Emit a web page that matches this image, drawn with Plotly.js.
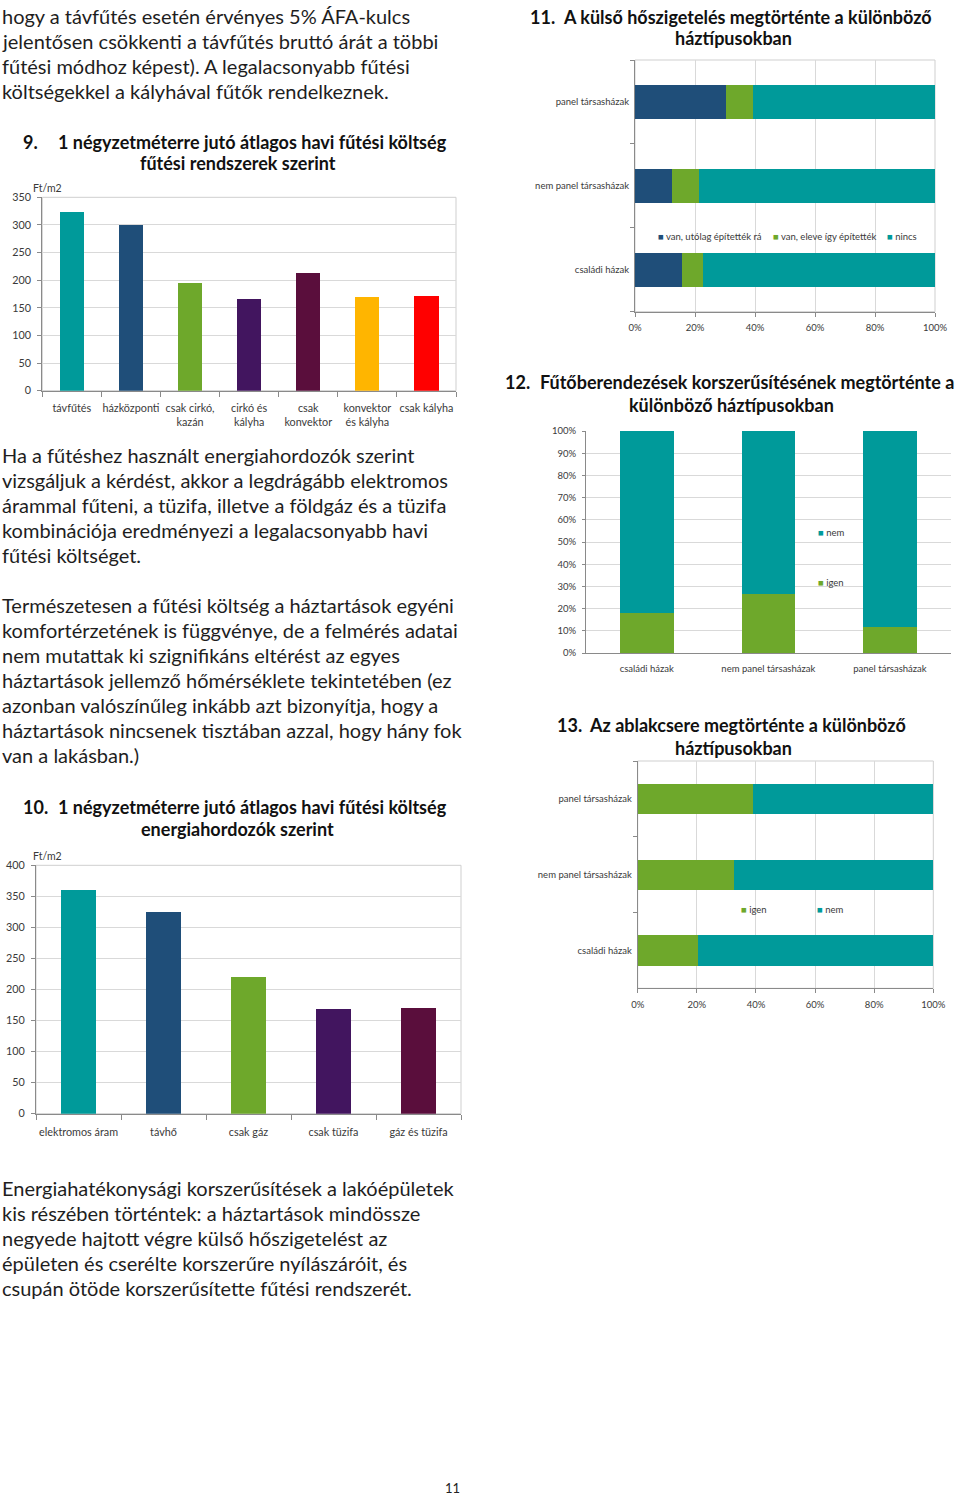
<!DOCTYPE html>
<html>
<head>
<meta charset="utf-8">
<script src="https://cdn.plot.ly/plotly-3.0.1.min.js"></script>
<style>
html,body{margin:0;padding:0;background:#fff;}
#chart{width:960px;height:1495px;}
</style>
</head>
<body>
<div id="chart"></div>
<script>
// ---------- DATA ----------
// Chart 9
const c9Cats = ['távfűtés', 'házközponti', 'csak cirkó,<br>kazán', 'cirkó és<br>kályha', 'csak<br>konvektor', 'konvektor<br>és kályha', 'csak kályha'];
const c9Vals = [324, 300, 195, 166, 213, 170, 172];
// Chart 10
const c10Cats = ['elektromos áram', 'távhő', 'csak gáz', 'csak tüzifa', 'gáz és tüzifa'];
const c10Vals = [360, 325, 220, 168, 170];
// Chart 11
const c11Cats = ['családi házak', 'nem panel társasházak', 'panel társasházak'];
const c11Utolag = [15.6, 12.3, 30.4];
const c11Eleve = [7.0, 9.0, 8.8];
const c11Nincs = [77.4, 78.7, 60.8];
const c11Names = ['van, utólag építették rá', 'van, eleve így építették', 'nincs'];
// Chart 12
const c12Cats = ['családi házak', 'nem panel társasházak', 'panel társasházak'];
const c12Igen = [17.9, 26.7, 11.6];
const c12Nem = [82.1, 73.3, 88.4];
// Chart 13
const c13Cats = ['családi házak', 'nem panel társasházak', 'panel társasházak'];
const c13Igen = [20.4, 32.6, 39.0];
const c13Nem = [79.6, 67.4, 61.0];
const unitLabel = 'Ft/m2';

// Text
const title9 = ['9.', '1 négyzetméterre jutó átlagos havi fűtési költség', 'fűtési rendszerek szerint'];
const title10 = ['10.', '1 négyzetméterre jutó átlagos havi fűtési költség', 'energiahordozók szerint'];
const title11 = ['11.', 'A külső hőszigetelés megtörténte a különböző', 'háztípusokban'];
const title12 = ['12.', 'Fűtőberendezések korszerűsítésének megtörténte a', 'különböző háztípusokban'];
const title13 = ['13.', 'Az ablakcsere megtörténte a különböző', 'háztípusokban'];
const textTop = ['hogy a távfűtés esetén érvényes 5% ÁFA-kulcs', 'jelentősen csökkenti a távfűtés bruttó árát a többi', 'fűtési módhoz képest). A legalacsonyabb fűtési', 'költségekkel a kályhával fűtők rendelkeznek.'];
const textMid1 = ['Ha a fűtéshez használt energiahordozók szerint', 'vizsgáljuk a kérdést, akkor a legdrágább elektromos', 'árammal fűteni, a tüzifa, illetve a földgáz és a tüzifa', 'kombinációja eredményezi a legalacsonyabb havi', 'fűtési költséget.'];
const textMid2 = ['Természetesen a fűtési költség a háztartások egyéni', 'komfortérzetének is függvénye, de a felmérés adatai', 'nem mutattak ki szignifikáns eltérést az egyes', 'háztartások jellemző hőmérséklete tekintetében (ez', 'azonban valószínűleg inkább azt bizonyítja, hogy a', 'háztartások nincsenek tisztában azzal, hogy hány fok', 'van a lakásban.)'];
const textBottom = ['Energiahatékonysági korszerűsítések a lakóépületek', 'kis részében történtek: a háztartások mindössze', 'negyede hajtott végre külső hőszigetelést az', 'épületen és cserélte korszerűre nyílászáróit, és', 'csupán ötöde korszerűsítette fűtési rendszerét.'];
const pageNo = '11';

// ---------- STYLE ----------
const W = 960, H = 1495;
const X = px => px / W;
const Y = py => 1 - py / H;
const TEAL = '#009a9a', NAVY = '#1f4e79', GREEN = '#6ea82b', PURPLE = '#42155f', MAROON = '#5a0e3c', YELLOW = '#ffb500', RED = '#ff0000';
const c9Colors = [TEAL, NAVY, GREEN, PURPLE, MAROON, YELLOW, RED];
const c10Colors = [TEAL, NAVY, GREEN, PURPLE, MAROON];
const FONT = 'Lato, "Open Sans", sans-serif';
const AXC = '#8a8a8a', GRID = '#d9d9d9', LBL = '#3a3a3a';

const traces = [
  {type: 'bar', x: c9Cats, y: c9Vals, marker: {color: c9Colors}, width: 0.41, xaxis: 'x', yaxis: 'y'},
  {type: 'bar', x: c10Cats, y: c10Vals, marker: {color: c10Colors}, width: 0.42, xaxis: 'x2', yaxis: 'y2'},
  {type: 'bar', orientation: 'h', y: c11Cats, x: c11Utolag, name: c11Names[0], marker: {color: NAVY}, width: 0.4, xaxis: 'x3', yaxis: 'y3'},
  {type: 'bar', orientation: 'h', y: c11Cats, x: c11Eleve, name: c11Names[1], marker: {color: GREEN}, width: 0.4, xaxis: 'x3', yaxis: 'y3'},
  {type: 'bar', orientation: 'h', y: c11Cats, x: c11Nincs, name: c11Names[2], marker: {color: TEAL}, width: 0.4, xaxis: 'x3', yaxis: 'y3'},
  {type: 'bar', x: c12Cats, y: c12Igen, name: 'igen', marker: {color: GREEN}, width: 0.44, xaxis: 'x4', yaxis: 'y4'},
  {type: 'bar', x: c12Cats, y: c12Nem, name: 'nem', marker: {color: TEAL}, width: 0.44, xaxis: 'x4', yaxis: 'y4'},
  {type: 'bar', orientation: 'h', y: c13Cats, x: c13Igen, name: 'igen', marker: {color: GREEN}, width: 0.4, xaxis: 'x5', yaxis: 'y5'},
  {type: 'bar', orientation: 'h', y: c13Cats, x: c13Nem, name: 'nem', marker: {color: TEAL}, width: 0.4, xaxis: 'x5', yaxis: 'y5'}
];

const tf = {family: FONT, size: 10.8, color: LBL};
const tfs = {family: FONT, size: 9.5, color: LBL};
function catAxis(domain, anchor, extra) {
  return Object.assign({domain: domain, anchor: anchor, type: 'category', showline: true, linecolor: AXC, linewidth: 1,
    ticks: 'outside', tickson: 'boundaries', ticklen: 5, tickcolor: AXC, showgrid: false, zeroline: false,
    tickangle: 0, tickfont: tf, fixedrange: true}, extra || {});
}
function valAxis(domain, anchor, range, dtick, extra) {
  return Object.assign({domain: domain, anchor: anchor, range: range, dtick: dtick, tick0: 0, showline: true, linecolor: AXC, linewidth: 1,
    ticks: 'outside', ticklen: 4, tickcolor: AXC, showgrid: true, gridcolor: GRID, gridwidth: 1, zeroline: false,
    tickangle: 0, tickfont: tf, fixedrange: true}, extra || {});
}

const layout = {
  width: W, height: H,
  margin: {l: 0, r: 0, t: 0, b: 0, pad: 0},
  paper_bgcolor: '#fff', plot_bgcolor: 'rgba(0,0,0,0)',
  showlegend: false, barmode: 'stack',
  font: {family: FONT, size: 10, color: LBL},
  // chart 9
  xaxis: catAxis([X(42.3), X(456)], 'y', {ticklabelstandoff: 7}),
  yaxis: valAxis([Y(390.7), Y(197.3)], 'x', [0, 350], 50, {ticklabelstandoff: 4}),
  // chart 10
  xaxis2: catAxis([X(36), X(461)], 'y2', {ticklabelstandoff: 8}),
  yaxis2: valAxis([Y(1113.7), Y(865.3)], 'x2', [0, 400], 50, {ticklabelstandoff: 4}),
  // chart 11
  xaxis3: valAxis([X(635), X(935)], 'y3', [0, 100], 20, {ticksuffix: '%', ticklabelstandoff: 3, tickfont: tfs}),
  yaxis3: catAxis([Y(311.7), Y(60)], 'x3', {ticklen: 4, ticklabelstandoff: 3, tickfont: tfs}),
  // chart 12
  xaxis4: catAxis([X(586), X(950.7)], 'y4', {ticks: '', ticklabelstandoff: 7, tickfont: tfs}),
  yaxis4: valAxis([Y(653), Y(431)], 'x4', [0, 100], 10, {ticksuffix: '%', ticklen: 3, ticklabelstandoff: 4, tickfont: tfs}),
  // chart 13
  xaxis5: valAxis([X(637.7), X(933.3)], 'y5', [0, 100], 20, {ticksuffix: '%', ticklabelstandoff: 3, tickfont: tfs}),
  yaxis5: catAxis([Y(988.3), Y(761)], 'x5', {ticklen: 4, ticklabelstandoff: 3, tickfont: tfs}),
  shapes: [],
  annotations: []
};

// frames (light border around plot areas)
[['x', 'y'], ['x2', 'y2'], ['x3', 'y3'], ['x5', 'y5']].forEach(p => {
  layout.shapes.push({type: 'rect', xref: p[0] + ' domain', yref: p[1] + ' domain', x0: 0, x1: 1, y0: 0, y1: 1,
    line: {color: '#cfcfcf', width: 1}, layer: 'below'});
});
// white legend box in chart 12 (breaks gridlines)
layout.shapes.push({type: 'rect', xref: 'paper', yref: 'paper', x0: X(804), x1: X(854), y0: Y(592), y1: Y(522),
  fillcolor: '#fff', line: {width: 0}, layer: 'between'});

const A = layout.annotations;
function txt(text, x, y, opts) {
  A.push(Object.assign({text: text, xref: 'paper', yref: 'paper', x: X(x), y: Y(y), xanchor: 'left', yanchor: 'middle',
    showarrow: false, font: {family: FONT, size: 20, color: '#1e1e1e'}}, opts || {}));
}
function lines(arr, x, y0, step) { arr.forEach((s, i) => txt(s, x, y0 + i * step)); }

// body text
lines(textTop, 0, 16, 25);
lines(textMid1, 0, 455, 25);
lines(textMid2, 0, 605, 25);
lines(textBottom, 0, 1188, 25);
txt(pageNo, 452, 1488, {xanchor: 'center', font: {family: FONT, size: 13, color: '#222'}});

// chart titles
const TF = {family: FONT, size: 18, color: '#111', weight: 700};
function title(t, numX, y1, c1, y2, c2) {
  txt('<b>' + t[0] + '</b>', numX, y1, {font: TF});
  txt('<b>' + t[1] + '</b>', c1, y1, {xanchor: 'center', font: TF});
  txt('<b>' + t[2] + '</b>', c2, y2, {xanchor: 'center', font: TF});
}
title(title9, 21, 141.7, 252.5, 163.3, 237.5);
title(title10, 21, 806.7, 252.5, 829.3, 237.2);
title(title11, 528, 16.7, 747.5, 38.3, 733);
title(title12, 503, 381.7, 747.3, 405, 731.7);
title(title13, 555, 725, 747.5, 747.7, 733);

// unit labels
const UF = {family: FONT, size: 10.5, color: LBL};
txt(unitLabel, 30.5, 188.3, {font: UF});
txt(unitLabel, 30.5, 855.7, {font: UF});

// legends (text keys)
const LF = {family: FONT, size: 9.5, color: LBL};
function key(color, label, x, y) {
  txt('<span style="color:' + color + '">■</span> ' + label, x, y, {font: LF});
}
key(NAVY, c11Names[0], 656, 236.3);
key(GREEN, c11Names[1], 770.5, 236.3);
key(TEAL, c11Names[2], 885, 236.3);
key(TEAL, 'nem', 815.5, 532.3);
key(GREEN, 'igen', 815.5, 582.3);
key(GREEN, 'igen', 739, 909.7);
key(TEAL, 'nem', 815, 909.7);

Plotly.newPlot('chart', traces, layout, {displayModeBar: false, staticPlot: true});
</script>
</body>
</html>
